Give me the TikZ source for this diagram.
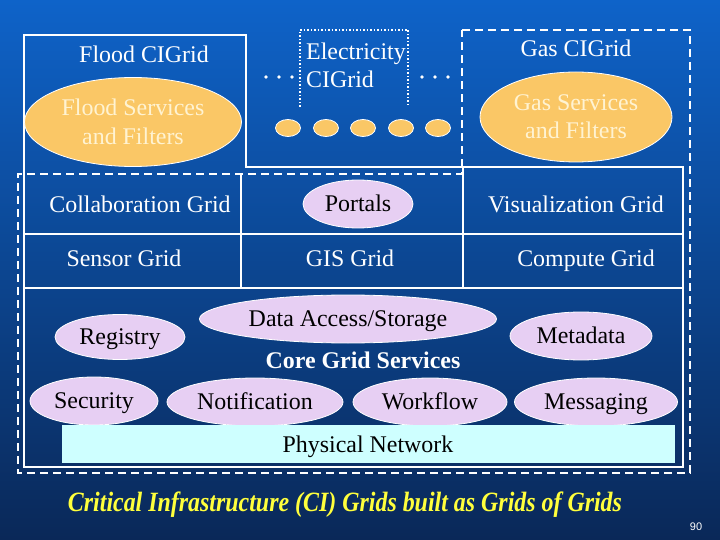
\documentclass[tikz,border=0pt]{standalone}
\usepackage{fontspec}
\setmainfont{Liberation Serif}
\newfontfamily\numfont{Liberation Sans}
\usetikzlibrary{shapes.geometric}
\definecolor{bgtop}{RGB}{14,99,201}
\definecolor{bgmid}{RGB}{11,74,158}
\definecolor{bgbot}{RGB}{10,40,88}
\definecolor{orangefill}{RGB}{250,199,102}
\definecolor{creamtext}{RGB}{255,243,210}
\definecolor{lavender}{RGB}{231,207,243}
\definecolor{netcyan}{RGB}{206,255,255}
\definecolor{capyellow}{RGB}{255,255,60}
\tikzset{
  lbl/.style={text=white, font=\fontsize{24}{28}\selectfont, inner sep=0, text height=17bp, text depth=2bp},
  orng/.style={ellipse, fill=orangefill, draw=white, line width=0.8bp, inner sep=0, text=creamtext, align=center, font=\fontsize{24}{28.5}\selectfont},
  lav/.style={ellipse, fill=lavender, draw=white, line width=0.8bp, inner sep=0, text=black, font=\fontsize{24}{28}\selectfont, text height=17bp, text depth=2bp, minimum height=48bp},
  minidisc/.style={ellipse, fill=orangefill, draw=white, line width=0.8bp, minimum width=25bp, minimum height=17bp, inner sep=0},
  solidline/.style={draw=white, line width=1.3bp},
  dashline/.style={draw=white, line width=1.6bp, dash pattern=on 8bp off 5bp},
  dotline/.style={draw=white, line width=1.3bp, dash pattern=on 1.5bp off 2bp},
  wdot/.style={fill=white},
}
\begin{document}
\begin{tikzpicture}[x=1bp,y=-1bp]
\useasboundingbox (0,0) rectangle (720,540);
\shade[top color=bgtop, middle color=bgmid, bottom color=bgbot] (0,0) rectangle (720,540);

% Flood CIGrid (solid outline)
\draw[solidline] (24,35) -- (246,35) -- (246,167) -- (683,167) -- (683,467) -- (24,467) -- cycle;
% Gas CIGrid (dashed outline)
\draw[dashline] (462,30) -- (690,30) -- (690,473) -- (18,473) -- (18,174) -- (462,174) -- cycle;
% Electricity CIGrid (dotted)
\draw[dotline] (300,107) -- (300,30) -- (408,30) -- (408,107);

% ellipsis dots
\foreach \x in {266,279,292,422,435,448} \fill[wdot] (\x,77) circle (1.9);

% table
\draw[solidline] (24,234) -- (683,234);
\draw[solidline] (24,288) -- (683,288);
\draw[solidline] (241,174) -- (241,288);
\draw[solidline] (463,167) -- (463,288);

% top labels
\node[lbl] (flood) at (144,55) {Flood CIGrid};
\node[lbl] (gas) at (576,49) {Gas CIGrid};
\node[text=white, inner sep=0, anchor=west, align=left, font=\fontsize{24}{28}\selectfont] (elec) at (306,65) {Electricity\\CIGrid};

\node[orng, minimum width=217bp, minimum height=89bp] (floodsvc) at (133,122) {Flood Services\\and Filters};
\node[orng, minimum width=192bp, minimum height=90bp] (gassvc) at (576,117) {Gas Services\\and Filters};

\foreach \x/\n in {288/d1,326/d2,363/d3,401/d4,438/d5} \node[minidisc] (\n) at (\x,128) {};

% table labels
\node[lbl] (collab) at (140,205) {Collaboration Grid};
\node[lav, minimum width=110bp] (portals) at (358,204) {Portals};
\node[lbl] (vis) at (576,205) {Visualization Grid};
\node[lbl] (sensor) at (124,259) {Sensor Grid};
\node[lbl] (gis) at (350,259) {GIS Grid};
\node[lbl] (compute) at (586,259) {Compute Grid};

% core services
\node[lav, minimum width=297bp] (data) at (348,319) {Data Access/Storage};
\node[lav, minimum width=130bp, minimum height=45bp] (registry) at (120,337) {Registry};
\node[lav, minimum width=142bp] (metadata) at (581,336) {Metadata};
\node[lbl, font=\fontsize{24}{28}\selectfont\bfseries] (core) at (363,361) {Core Grid Services};
\node[lav, minimum width=128bp] (security) at (94,401) {Security};
\node[lav, minimum width=176bp] (notif) at (255,402) {Notification};
\node[lav, minimum width=154bp] (workflow) at (430,402) {Workflow};
\node[lav, minimum width=163bp] (messaging) at (596,402) {Messaging};

\node[rectangle, fill=netcyan, minimum width=613bp, minimum height=38bp, inner sep=0] (netbox) at (368.5,444) {};
\node[lbl, text=black] (net) at (368,445) {Physical Network};

% caption
\node[text=capyellow, inner sep=0, font=\fontsize{28}{32}\selectfont\bfseries\itshape] (caption) at (345,505) {\resizebox{554bp}{\height}{Critical Infrastructure (CI) Grids built as Grids of Grids}};
\node[text=white, inner sep=0, font=\numfont\fontsize{11}{13}\selectfont] (pgnum) at (696,527) {90};
\end{tikzpicture}
\end{document}
